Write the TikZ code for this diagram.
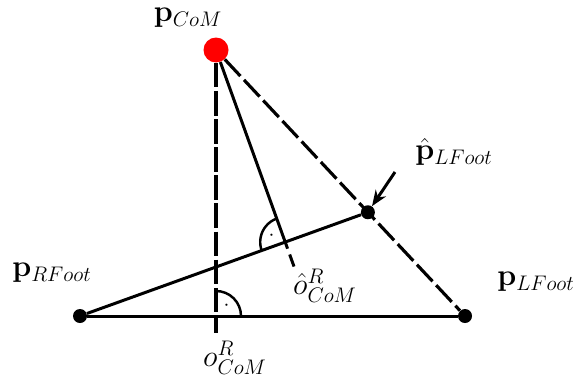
\documentclass[tikz,border=0pt]{standalone}
\usetikzlibrary{arrows.meta, calc, angles}
\definecolor{com}{HTML}{FF0000}

\tikzset{
  leg/.style={line width=1.7pt},
  dashleg/.style={line width=1.8pt, dash pattern=on 13pt off 3pt},
  vertleg/.style={line width=1.8pt, dash pattern=on 14pt off 2pt},
  footdot/.style={circle, fill=black, inner sep=0pt, minimum size=0.28cm},
  comdot/.style={circle, fill=com, inner sep=0pt, minimum size=0.5cm},
  lbl/.style={font=\LARGE},
  rangle/.style={draw, line width=1.4pt, angle radius=0.5cm, pic text={\large$\cdot$}, angle eccentricity=0.6}
}

\begin{document}
\begin{tikzpicture}
  \useasboundingbox (0, 0) rectangle (11.5, 7.7);

  % Points
  \node[comdot] (com) at (4.32, 6.70) {};
  \node[footdot] (rfoot) at (1.60, 1.38) {};
  \node[footdot] (lfoot) at (9.30, 1.38) {};
  \node[footdot] (lhat) at ($(com.center)!0.61!(lfoot.center)$) {};

  % Helper points
  \coordinate (o) at (com |- rfoot);
  \coordinate (obot) at ($(o) + (0, -0.34)$);
  \coordinate (foot) at ($(rfoot.center)!(com.center)!(lhat.center)$);
  \coordinate (ohat) at ($(foot)!-0.52cm!(com.center)$);
  \coordinate (arrstart) at (7.90, 4.26);

  % Support lines
  \draw[leg] (rfoot) -- (lfoot);
  \draw[leg] (rfoot) -- (lhat);
  \draw[dashleg] (com) -- (lfoot);
  \draw[vertleg] (com) -- (obot);
  \draw[leg] (com) -- (foot);
  \draw[leg, dash pattern=on 4pt off 3.5pt on 9pt off 4pt] (foot) -- (ohat);

  % Right angles
  \pic[rangle] {angle = lfoot--o--com};
  \pic[rangle] {angle = com--foot--rfoot};

  % Arrow to projected foot
  \draw[leg, -{Stealth[length=9pt, width=7pt]}] (arrstart) -- (lhat);

  % Labels
  \node[lbl] (comlbl) at (3.76, 7.34) {$\mathbf{p}_{CoM}$};
  \node[lbl] (rfootlbl) at (1.04, 2.24) {$\mathbf{p}_{RFoot}$};
  \node[lbl] (lfootlbl) at (10.72, 2.06) {$\mathbf{p}_{LFoot}$};
  \node[lbl] (lhatlbl) at (9.08, 4.66) {$\hat{\mathbf{p}}_{LFoot}$};
  \node[lbl] (ohatlbl) at (6.50, 1.98) {$\hat{o}^{R}_{CoM}$};
  \node[lbl] (olbl) at (4.70, 0.54) {$o^{R}_{CoM}$};
\end{tikzpicture}
\end{document}
